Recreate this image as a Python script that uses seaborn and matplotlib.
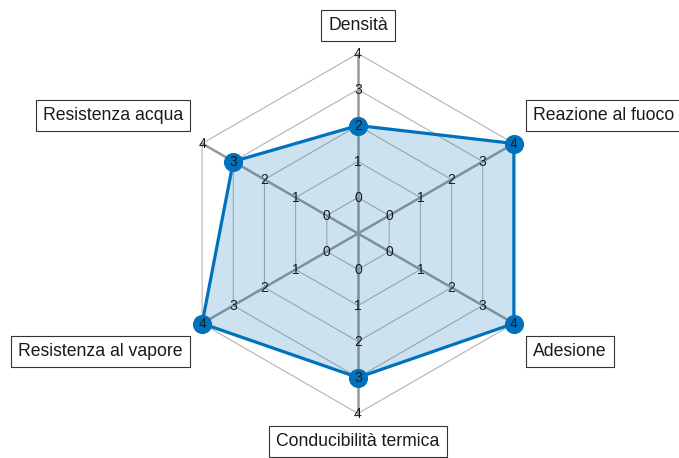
import numpy as np
import pandas as pd
import matplotlib
matplotlib.use("Agg")
import matplotlib.pyplot as plt
import seaborn as sns

# data
categories = ["Densità", "Reazione al fuoco", "Adesione",
              "Conducibilità termica", "Resistenza al vapore", "Resistenza acqua"]
values = [2, 4, 4, 3, 4, 3]
tick_values = [0, 1, 2, 3, 4]

sns.set_style("white")
plt.rcParams["font.family"] = ["Liberation Sans", "DejaVu Sans"]

blue = "#0072BD"
n = len(categories)
angles = np.deg2rad(90 - 360 / n * np.arange(n))

# value v sits at radius v + 1 (the 0 ring is an inner hexagon)
def to_xy(v, a):
    r = np.asarray(v, dtype=float) + 1
    return r * np.cos(a), r * np.sin(a)

fig = plt.figure(figsize=(6.79, 4.58), dpi=100)
ax = fig.add_axes([0, 0, 1, 1])
unit = 36.0
cx, cy = 358, 233.5
ax.set_xlim(-cx / unit, (679 - cx) / unit)
ax.set_ylim(-(458 - cy) / unit, cy / unit)
ax.axis("off")

# grid hexagons
closed = np.append(angles, angles[0])
for t in tick_values:
    gx, gy = to_xy([t] * (n + 1), closed)
    ax.plot(gx, gy, color="#b3b3b3", lw=0.8, zorder=1)

# spokes
for a in angles:
    sx, sy = to_xy([-1, tick_values[-1]], a)
    ax.plot(sx, sy, color="#999999", lw=1.8, zorder=1)

# data polygon
px, py = to_xy(values + values[:1], closed)
df = pd.DataFrame({"x": px, "y": py})
ax.fill(px, py, color=blue, alpha=0.2, lw=0, zorder=2)
sns.lineplot(data=df, x="x", y="y", sort=False, estimator=None,
             color=blue, lw=2.3, ax=ax, zorder=3)
sns.scatterplot(data=df.iloc[:n], x="x", y="y", color=blue, s=190,
                edgecolor=blue, linewidth=0, ax=ax, zorder=4)

# tick labels along each spoke
for a in angles:
    for t in tick_values:
        tx, ty = to_xy(t, a)
        ax.text(tx, ty, str(t), ha="center", va="center", fontsize=10,
                color="#1a1a1a", zorder=5)

# axis labels in boxes
fs = 12.7
pad = 0.4 * fs
for lab, a in zip(categories, angles):
    c, s = np.cos(a), np.sin(a)
    if abs(c) < 0.1:
        lx, ly = 0, 5.35 * np.sign(s)
        ha = "center"
    else:
        lx, ly = 4.67 * np.sign(c), 2.85 * np.sign(s)
        ha = "left" if c > 0 else "right"
    va = "bottom" if s > 0 else "top"
    dx = 0 if ha == "center" else (pad if ha == "left" else -pad)
    dy = pad if va == "bottom" else -pad
    ax.annotate(lab, xy=(lx, ly), xytext=(dx, dy),
                textcoords="offset points", ha=ha, va=va, fontsize=fs,
                color="#1a1a1a", zorder=6,
                bbox=dict(boxstyle="square,pad=0.4", fc="white", ec="#333333", lw=0.8))

ax.set_xlabel("")
ax.set_ylabel("")
legend = ax.get_legend()
if legend:
    legend.remove()

plt.savefig("out.png", dpi=100)
